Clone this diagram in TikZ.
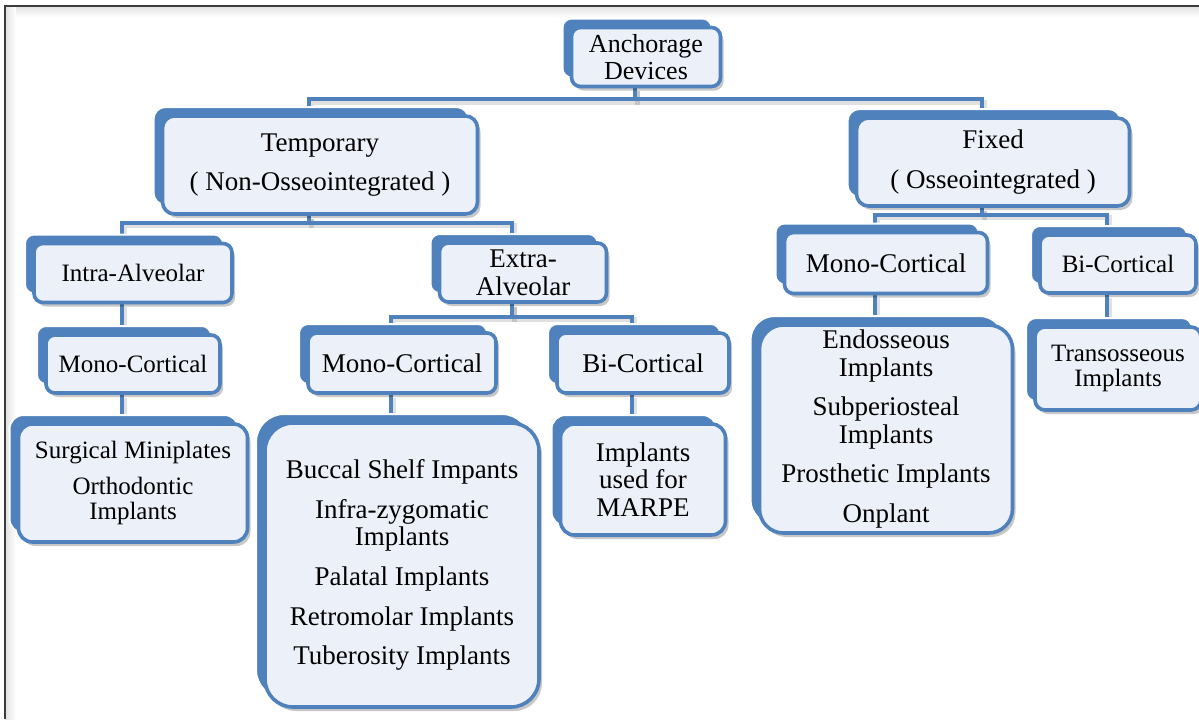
\documentclass[tikz,border=0pt]{standalone}
\usepackage{fontspec}
\setmainfont{Liberation Serif}
\usepackage{xcolor}
\usetikzlibrary{shadows,backgrounds,calc}
\definecolor{accent}{HTML}{4F81BD}
\definecolor{cardbg}{HTML}{ECF0F8}
\definecolor{frame}{HTML}{3C3C3C}
\tikzset{
  card/.style={draw=accent,line width=1.8pt,fill=cardbg,rounded corners=4.5pt,
               align=center,inner sep=0pt,font=\fontsize{13.5}{13.8}\selectfont,
               copy shadow={shadow xshift=-4.5pt,shadow yshift=4.5pt,fill=accent,draw=white,line width=1pt},
               drop shadow={shadow xshift=1.5pt,shadow yshift=-2pt,fill=black,opacity=.22}},
  small/.style={font=\fontsize{12.5}{12.6}\selectfont},
  size/.style 2 args={minimum width=#1*0.5pt,minimum height=#2*0.5pt},
  link/.style={draw=accent,line width=2pt,
               preaction={draw=black,opacity=.12,line width=2.5pt,transform canvas={xshift=1pt,yshift=-1.5pt}}}
}

\begin{document}
\begin{tikzpicture}[x=0.5pt,y=-0.5pt]
\useasboundingbox (0,0) rectangle (1199,719);
% frame
\begin{scope}[on background layer]
  \fill[white] (0,0) rectangle (1199,719);
  \shade[top color=black!12,bottom color=white] (5,6) rectangle (1199,17);
  \shade[left color=black!12,right color=white] (5,6) rectangle (16,719);
  \draw[frame,line width=0.8pt] (5,719) -- (5,6) -- (1199,6);
\end{scope}

% top levels
\node[card,size={149}{59},font=\fontsize{13}{13.4}\selectfont] (anch) at (646,57) {Anchorage\\Devices};
\node[card,size={315}{98},rounded corners=6pt] (temp) at (320,165) {Temporary\\[6pt]( Non-Osseointegrated )};
\node[card,size={273}{88},rounded corners=6pt] (fixed) at (993,162) {Fixed\\[6pt]( Osseointegrated )};

% second level
\node[card,small,size={198}{59}] (intra) at (133,273) {Intra-Alveolar};
\node[card,size={167}{59}] (extra) at (523,272.5) {Extra-\\Alveolar};
\node[card,size={203}{61}] (monoR) at (886,263) {Mono-Cortical};
\node[card,small,size={156}{58}] (biR) at (1118,264) {Bi-Cortical};

% third level
\node[card,small,size={174}{58}] (monoL) at (133,364) {Mono-Cortical};
\node[card,size={188}{60}] (monoM) at (402,363) {Mono-Cortical};
\node[card,size={172}{60}] (biM) at (643,363) {Bi-Cortical};

% leaves
\node[card,small,size={229}{118},rounded corners=7pt] (surg) at (133,483)
  {Surgical Miniplates\\[5.5pt]Orthodontic\\Implants};
\node[card,size={274}{284},rounded corners=14pt] (buccal) at (402,565)
  {Buccal Shelf Impants\\[6pt]Infra-zygomatic\\Implants\\[6pt]Palatal Implants\\[6pt]Retromolar Implants\\[6pt]Tuberosity Implants};
\node[card,size={165}{111},rounded corners=7pt] (marpe) at (643,479.5) {Implants\\used for\\MARPE};
\node[card,size={253}{208},rounded corners=12pt] (endo) at (886,429)
  {Endosseous\\Implants\\[6pt]Subperiosteal\\Implants\\[6pt]Prosthetic Implants\\[6pt]Onplant};
\node[card,small,size={166}{83},rounded corners=5pt] (trans) at (1118,368.5) {Transosseous\\Implants};

% connectors
\begin{scope}[on background layer]
  \draw[link] ([xshift=-5.5pt]anch.south) -- ++(0,11) -| ([xshift=-5.5pt]temp.north);
  \draw[link] ([xshift=-5.5pt]anch.south) -- ++(0,11) -| ([xshift=-5.5pt]fixed.north);
  \draw[link] ([xshift=-5.5pt]temp.south) -- ++(0,7) -| ([xshift=-5.5pt]intra.north);
  \draw[link] ([xshift=-5.5pt]temp.south) -- ++(0,7) -| ([xshift=-5.5pt]extra.north);
  \draw[link] ([xshift=-5.5pt]fixed.south) -- ++(0,7) -| ([xshift=-5.5pt]monoR.north);
  \draw[link] ([xshift=-5.5pt]fixed.south) -- ++(0,7) -| ([xshift=-5.5pt]biR.north);
  \draw[link] ([xshift=-5.5pt]extra.south) -- ++(0,13) -| ([xshift=-5.5pt]monoM.north);
  \draw[link] ([xshift=-5.5pt]extra.south) -- ++(0,13) -| ([xshift=-5.5pt]biM.north);
  \draw[link] ([xshift=-5.5pt]intra.south) -- ([xshift=-5.5pt]monoL.north);
  \draw[link] ([xshift=-5.5pt]monoL.south) -- ([xshift=-5.5pt]surg.north);
  \draw[link] ([xshift=-5.5pt]monoM.south) -- ([xshift=-5.5pt]buccal.north);
  \draw[link] ([xshift=-5.5pt]biM.south) -- ([xshift=-5.5pt]marpe.north);
  \draw[link] ([xshift=-5.5pt]monoR.south) -- ([xshift=-5.5pt]endo.north);
  \draw[link] ([xshift=-5.5pt]biR.south) -- ([xshift=-5.5pt]trans.north);
\end{scope}
\end{tikzpicture}
\end{document}
